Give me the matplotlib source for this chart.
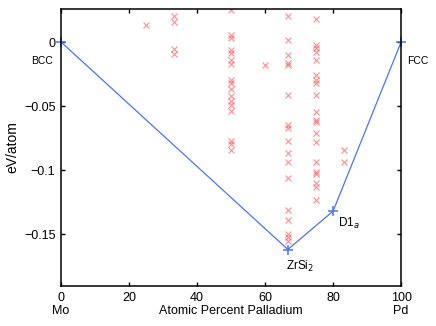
import numpy as np
import matplotlib
matplotlib.use('Agg')
import matplotlib.pyplot as plt

plt.rcParams['font.family'] = ['Liberation Sans', 'DejaVu Sans']

# candidate structures (atomic percent Pd, formation energy eV/atom)
x_25 = [25.0]
y_25 = [0.013]
x_33 = [33.3] * 4
y_33 = [0.020, 0.016, -0.0055, -0.0094]
x_50 = [50.0] * 17
y_50 = [0.025, 0.0055, 0.003, -0.006, -0.0086, -0.014, -0.017, -0.030, -0.032,
        -0.037, -0.042, -0.046, -0.049, -0.054, -0.077, -0.080, -0.084]
x_60 = [60.0]
y_60 = [-0.018]
x_67 = [66.7] * 17
y_67 = [0.020, 0.0016, -0.010, -0.0164, -0.018, -0.041, -0.065, -0.067, -0.077,
        -0.087, -0.094, -0.106, -0.131, -0.139, -0.150, -0.152, -0.155]
x_75 = [75.0] * 20
y_75 = [0.018, -0.0023, -0.0047, -0.0078, -0.014, -0.026, -0.030, -0.032, -0.041,
        -0.055, -0.061, -0.0625, -0.071, -0.078, -0.094, -0.1016, -0.103, -0.110,
        -0.113, -0.123]
x_83 = [83.3] * 2
y_83 = [-0.084, -0.094]

# convex hull
hull_x = [0, 66.7, 80, 100]
hull_y = [0, -0.162, -0.132, 0]
hull_names = ['BCC', 'ZrSi$_2$', 'D1$_a$', 'FCC']
label_offsets = [(-14, -14), (8.5, -12), (11, -9), (12, -14)]

cand_x = np.concatenate([x_25, x_33, x_50, x_60, x_67, x_75, x_83])
cand_y = np.concatenate([y_25, y_33, y_50, y_60, y_67, y_75, y_83])

fig = plt.figure(figsize=(4.36, 3.26), dpi=100)
ax = fig.add_axes([0.140, 0.1227, 0.780, 0.8497])

ax.plot(cand_x, cand_y, 'x', color=(1, 0.2, 0.2), alpha=0.55, markersize=5,
        markeredgewidth=0.8, linestyle='none')
ax.plot(hull_x, hull_y, '-+', color=(0.3, 0.45, 1.0), linewidth=0.9,
        markersize=7, markeredgewidth=1.1, clip_on=False)

for hx, hy, name, off in zip(hull_x, hull_y, hull_names, label_offsets):
    fs = 7.5 if name in ('BCC', 'FCC') else 8.5
    ax.annotate(name, (hx, hy), xytext=off, textcoords='offset points',
                ha='center', va='center', fontsize=fs)

ax.set_xlim(0, 100)
ax.set_ylim(-0.1905, 0.0258)
ax.set_xticks([0, 20, 40, 60, 80, 100])
ax.set_yticks([-0.15, -0.1, -0.05, 0])
ax.set_yticklabels(['\u22120.15', '\u22120.1', '\u22120.05', '0'])
ax.tick_params(direction='in', top=True, right=True, labelsize=9,
               length=3, width=1.0, pad=4)
for s in ax.spines.values():
    s.set_linewidth(1.1)

ax.set_xlabel('Atomic Percent Palladium', fontsize=9, labelpad=1)
ax.set_ylabel('eV/atom', fontsize=10, labelpad=3)
ax.annotate('Mo', (0, 0), xycoords=('data', 'axes fraction'), xytext=(0, -18),
            textcoords='offset points', ha='center', va='center', fontsize=9)
ax.annotate('Pd', (100, 0), xycoords=('data', 'axes fraction'), xytext=(0, -18),
            textcoords='offset points', ha='center', va='center', fontsize=9)

fig.savefig('out.png', dpi=100)
